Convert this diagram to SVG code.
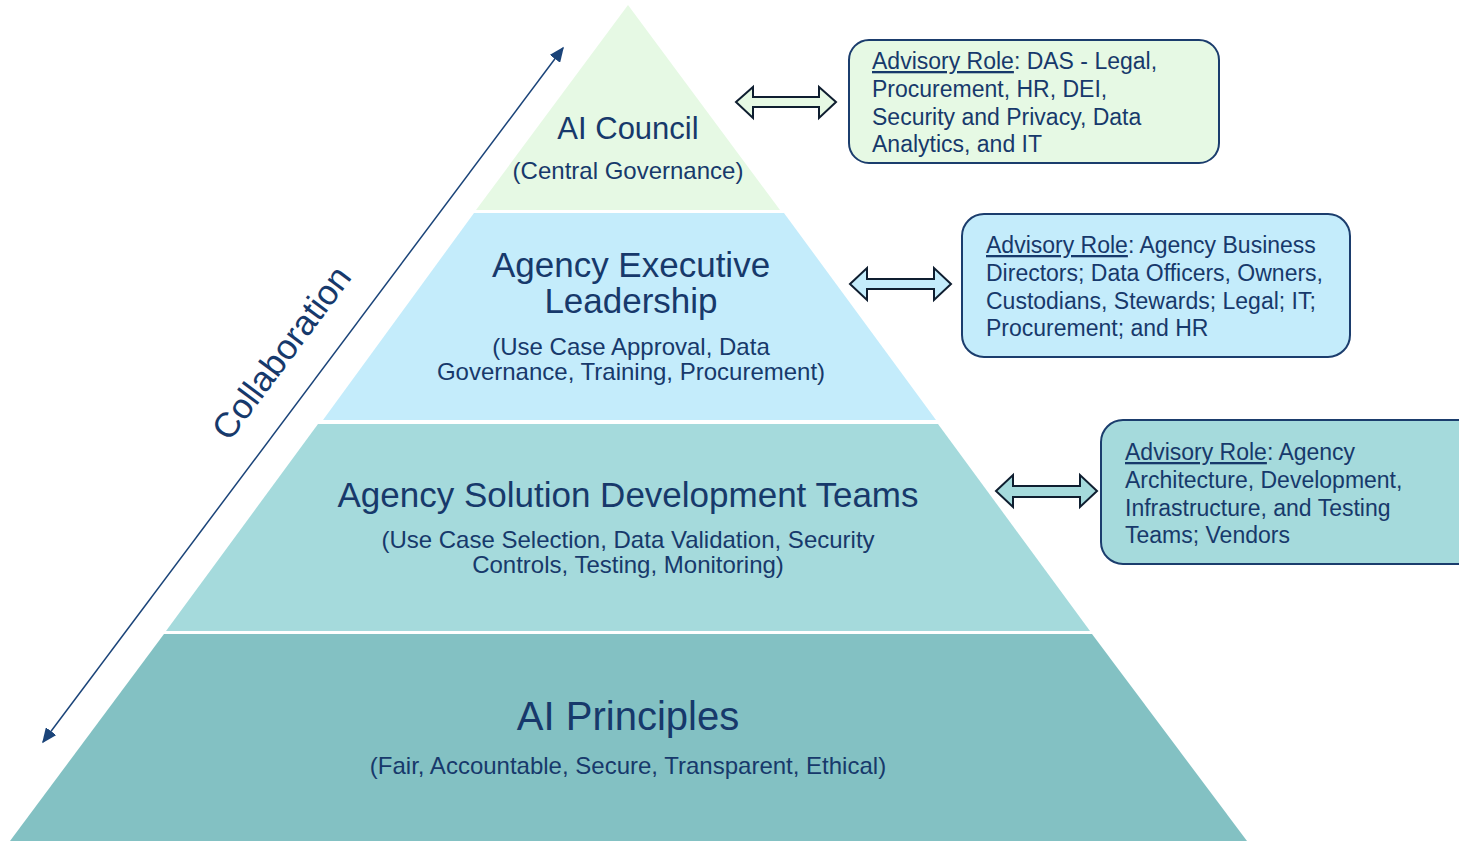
<svg xmlns="http://www.w3.org/2000/svg" width="1459" height="841" viewBox="0 0 1459 841">
<defs>
<style>
text{font-family:"Liberation Sans",Arial,sans-serif;fill:#17396B}
.c{text-anchor:middle}
.t1{font-size:31px}
.t2{font-size:35px}
.t4{font-size:40px}
.s{font-size:24px}
.b{font-size:23px}
.u{text-decoration:underline}
.box{stroke:#1B3D6D;stroke-width:2}
.dar{stroke:#0F1E30;stroke-width:2;stroke-linejoin:miter}
</style>
<marker id="ah" viewBox="0 0 10 10" refX="9" refY="5" markerWidth="15" markerHeight="13" orient="auto-start-reverse" markerUnits="userSpaceOnUse" preserveAspectRatio="none">
<path d="M0,0 L10,5 L0,10 z" fill="#1B4479"/>
</marker>
</defs>
<rect width="1459" height="841" fill="#fff"/>
<g id="tier-principles">
<polygon points="164,634 1092,634 1247,841 10,841" fill="#83C1C3"/>
<text class="c t4" x="628" y="730">AI Principles</text>
<text class="c s" x="628" y="774">(Fair, Accountable, Secure, Transparent, Ethical)</text>
</g>
<g id="tier-solution">
<polygon points="318,424 938,424 1090,631 166,631" fill="#A5DADC"/>
<text class="c t2" x="628" y="507">Agency Solution Development Teams</text>
<text class="c s" x="628" y="548">(Use Case Selection, Data Validation, Security</text>
<text class="c s" x="628" y="573">Controls, Testing, Monitoring)</text>
</g>
<g id="tier-executive">
<polygon points="474,213 784,213 936,420 323,420" fill="#C4ECFB"/>
<text class="c t2" x="631" y="277">Agency Executive</text>
<text class="c t2" x="631" y="313">Leadership</text>
<text class="c s" x="631" y="355">(Use Case Approval, Data</text>
<text class="c s" x="631" y="380">Governance, Training, Procurement)</text>
</g>
<g id="tier-council">
<polygon points="628,5 780,210 476,210" fill="#E6F9E4"/>
<text class="c t1" x="628" y="139">AI Council</text>
<text class="c s" x="628" y="179">(Central Governance)</text>
</g>
<g id="box-council">
<rect class="box" x="849" y="40" width="370" height="123" rx="20" fill="#E6F9E4"/>
<text class="b" x="872" y="69"><tspan class="u">Advisory Role</tspan>: DAS - Legal,</text>
<text class="b" x="872" y="97">Procurement, HR, DEI,</text>
<text class="b" x="872" y="125">Security and Privacy, Data</text>
<text class="b" x="872" y="152">Analytics, and IT</text>
</g>
<g id="box-executive">
<rect class="box" x="962" y="214" width="388" height="143" rx="22" fill="#C4ECFB"/>
<text class="b" x="986" y="253"><tspan class="u">Advisory Role</tspan>: Agency Business</text>
<text class="b" x="986" y="281">Directors; Data Officers, Owners,</text>
<text class="b" x="986" y="309">Custodians, Stewards; Legal; IT;</text>
<text class="b" x="986" y="336">Procurement; and HR</text>
</g>
<g id="box-solution">
<rect class="box" x="1101" y="420" width="380" height="144" rx="22" fill="#A5DADC"/>
<text class="b" x="1125" y="460"><tspan class="u">Advisory Role</tspan>: Agency</text>
<text class="b" x="1125" y="488">Architecture, Development,</text>
<text class="b" x="1125" y="516">Infrastructure, and Testing</text>
<text class="b" x="1125" y="543">Teams; Vendors</text>
</g>
<g id="connectors">
<line x1="43" y1="742" x2="563" y2="48" stroke="#1B4479" stroke-width="1.5" marker-start="url(#ah)" marker-end="url(#ah)"/>
<text x="0" y="0" font-size="35" transform="translate(291,360) rotate(-53.2)" class="c">Collaboration</text>
<path class="dar" fill="#E6F9E4" d="M736,102 L753,87 L753,97 L819,97 L819,87 L836,102 L819,118 L819,107 L753,107 L753,118 Z"/>
<path class="dar" fill="#C4ECFB" d="M850,284 L867,268 L867,279 L934,279 L934,268 L951,284 L934,300 L934,289 L867,289 L867,300 Z"/>
<path class="dar" fill="#A5DADC" d="M996,491 L1013,475 L1013,486 L1080,486 L1080,475 L1097,491 L1080,507 L1080,497 L1013,497 L1013,507 Z"/>
</g>
</svg>
